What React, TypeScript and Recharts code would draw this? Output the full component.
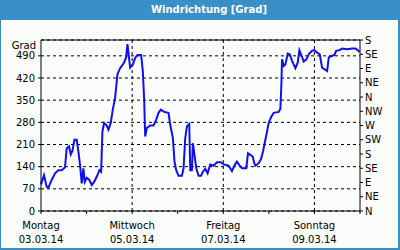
import React from 'react';
import { LineChart, Line, XAxis, YAxis, CartesianGrid, ReferenceLine } from 'recharts';

// time in days since Montag 03.03.14 00:00
const TIMES = [
  0.0, 0.066, 0.125, 0.161, 0.234, 0.308, 0.381, 0.454, 0.527, 0.564, 0.615, 0.652, 0.689, 0.733, 0.784,
  0.82, 0.857, 0.894, 0.93, 0.96, 1.004, 1.062, 1.114, 1.165, 1.223, 1.282, 1.319, 1.348, 1.385, 1.443,
  1.48, 1.531, 1.575, 1.626, 1.678, 1.736, 1.773, 1.824, 1.868, 1.897, 1.927, 1.956, 2.015, 2.066, 2.117,
  2.198, 2.234, 2.264, 2.286, 2.322, 2.396, 2.469, 2.527, 2.579, 2.63, 2.703, 2.798, 2.835, 2.894, 2.93,
  2.967, 3.018, 3.092, 3.128, 3.165, 3.202, 3.253, 3.275, 3.311, 3.333, 3.363, 3.407, 3.458, 3.509, 3.553,
  3.604, 3.656, 3.714, 3.788, 3.861, 3.949, 4.007, 4.117, 4.19, 4.249, 4.3, 4.359, 4.41, 4.505, 4.542,
  4.593, 4.645, 4.681, 4.703, 4.777, 4.828, 4.872, 4.908, 4.96, 4.996, 5.048, 5.106, 5.216, 5.253, 5.275,
  5.289, 5.326, 5.363, 5.414, 5.458, 5.509, 5.582, 5.634, 5.67, 5.707, 5.765, 5.824, 5.875, 5.949, 6.0,
  6.059, 6.117, 6.168, 6.227, 6.278, 6.315, 6.352, 6.44, 6.476, 6.549, 6.608, 6.718, 6.828, 6.901, 6.952,
  6.989,
];

// wind direction in degrees
const DIRECTION = [
  84, 113, 76, 73, 98, 119, 129, 129, 138, 198, 204, 179, 190, 225, 225,
  188, 145, 87, 135, 92, 105, 98, 82, 92, 108, 129, 124, 251, 278, 270,
  257, 278, 320, 357, 432, 451, 458, 469, 485, 527, 490, 453, 463, 483, 493,
  493, 442, 352, 235, 262, 270, 270, 288, 310, 320, 313, 310, 273, 230, 156,
  129, 111, 111, 135, 230, 267, 275, 129, 129, 214, 182, 135, 111, 111, 124,
  133, 119, 147, 143, 154, 154, 147, 143, 126, 145, 156, 143, 135, 135, 182,
  177, 172, 151, 143, 151, 164, 188, 214, 251, 278, 296, 310, 313, 323, 400,
  479, 458, 463, 497, 495, 474, 451, 469, 508, 495, 472, 479, 495, 506, 508,
  500, 495, 453, 447, 442, 485, 488, 493, 506, 508, 513, 511, 513, 513, 508,
  502,
];

const DAY_TICKS = [0, 1, 2, 3, 4, 5, 6, 7];
const LABEL_DAYS = [0, 2, 4, 6];
const DAY_NAMES = ['Montag', 'Mittwoch', 'Freitag', 'Sonntag'];
const DAY_DATES = ['03.03.14', '05.03.14', '07.03.14', '09.03.14'];
const GRID_DAYS = [2, 4, 6];

const DEGREE_TICKS = [0, 70, 140, 210, 280, 350, 420, 490];
const COMPASS_TICKS = [0, 45, 90, 135, 180, 225, 270, 315, 360, 405, 450, 495, 540];
const COMPASS_LABELS = ['N', 'NE', 'E', 'SE', 'S', 'SW', 'W', 'NW', 'N', 'NE', 'E', 'SE', 'S'];

const FONT = '"DejaVu Sans", Verdana, sans-serif';

const data = TIMES.map((d, i) => ({ d, v: DIRECTION[i] }));

const DayTick = (props: any) => {
  const { x, y, payload } = props;
  const idx = LABEL_DAYS.indexOf(payload.value);
  if (idx < 0) return <g />;
  return (
    <g>
      <text x={x} y={y + 13} textAnchor="middle" fontSize={10} fontFamily={FONT} fill="#000">
        {DAY_NAMES[idx]}
      </text>
      <text x={x} y={y + 27} textAnchor="middle" fontSize={10} fontFamily={FONT} fill="#000">
        {DAY_DATES[idx]}
      </text>
    </g>
  );
};

const CompassTick = (props: any) => {
  const { x, y, payload } = props;
  const label = COMPASS_LABELS[COMPASS_TICKS.indexOf(payload.value)];
  return (
    <text x={x} y={y} dy="0.355em" textAnchor="start" fontSize={10} fontFamily={FONT} fill="#000">
      {label}
    </text>
  );
};

const App: React.FC = () => {
  const tickStyle = { fill: '#000', fontSize: 10, fontFamily: FONT };
  return (
    <div style={{ position: 'relative', width: 400, height: 250, background: '#fafdfa', fontFamily: FONT }}>
      <style>{'body{margin:0}'}</style>
      <LineChart
        width={400}
        height={250}
        data={data}
        margin={{ top: 40, right: 0, bottom: 0, left: 0 }}
        style={{ position: 'absolute', left: 0, top: 0 }}
      >
        <CartesianGrid yAxisId="left" vertical={false} stroke="#000" strokeDasharray="3 3" />
        {GRID_DAYS.map((d) => (
          <ReferenceLine key={d} yAxisId="left" x={d} stroke="#000" strokeDasharray="3 3" />
        ))}
        <ReferenceLine yAxisId="left" y={540} stroke="#000" />
        <XAxis
          dataKey="d"
          type="number"
          domain={[0, 7]}
          ticks={DAY_TICKS}
          interval={0}
          height={39}
          tickSize={3}
          tickMargin={2}
          stroke="#000"
          tick={<DayTick />}
        />
        <YAxis
          yAxisId="left"
          type="number"
          domain={[0, 540]}
          allowDataOverflow
          ticks={DEGREE_TICKS}
          interval={0}
          width={41}
          tickSize={3}
          tickMargin={3}
          stroke="#000"
          tick={tickStyle}
        />
        <YAxis
          yAxisId="right"
          orientation="right"
          type="number"
          domain={[0, 540]}
          allowDataOverflow
          ticks={COMPASS_TICKS}
          interval={0}
          width={40}
          tickSize={3}
          tickMargin={2}
          stroke="#000"
          tick={<CompassTick />}
        />
        {/* invisible series so the compass axis gets its scale */}
        <Line
          yAxisId="right"
          type="linear"
          dataKey="v"
          stroke="none"
          dot={false}
          activeDot={false}
          isAnimationActive={false}
        />
        <Line
          yAxisId="left"
          type="linear"
          dataKey="v"
          stroke="#1010ee"
          strokeWidth={2}
          dot={false}
          isAnimationActive={false}
        />
      </LineChart>
      <div
        style={{
          position: 'absolute', left: 0, top: 0, width: 400, height: 20, background: '#3b8fc7',
          color: '#fff', fontWeight: 'bold', fontSize: 10, lineHeight: '20px', textAlign: 'center',
          boxSizing: 'border-box', paddingLeft: 18,
        }}
      >
        Windrichtung [Grad]
      </div>
      <div style={{ position: 'absolute', left: 0, top: 40, width: 36, textAlign: 'right', fontSize: 10, lineHeight: '12px', color: '#000' }}>
        Grad
      </div>
      <div
        style={{
          position: 'absolute', left: 0, top: 0, width: 400, height: 250, boxSizing: 'border-box',
          borderLeft: '1px solid #3b8fc7', borderRight: '2px solid #3b8fc7', borderBottom: '2px solid #3b8fc7',
          pointerEvents: 'none',
        }}
      />
    </div>
  );
};

export default App;
